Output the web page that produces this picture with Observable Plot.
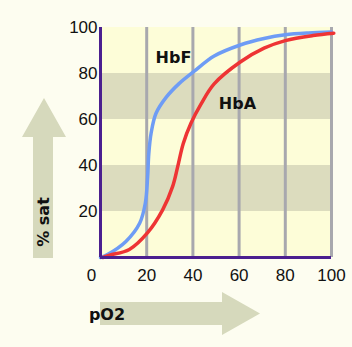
<!DOCTYPE html>
<html><head><meta charset="utf-8">
<script src="https://cdn.jsdelivr.net/npm/d3@7"></script>
<script src="https://cdn.jsdelivr.net/npm/@observablehq/plot@0.6"></script>
<style>html,body{margin:0;padding:0;background:#fdfdf0;}</style>
</head><body><div id="chart"></div>
<script>
const hbfX = [0, 3, 11, 17, 19.4, 20.4, 20.9, 21.9, 24, 28.4, 34, 40.6, 49.2, 60.5, 70.8, 80, 90, 100];
const hbfY = [0, 1.3, 7, 15, 23.6, 35, 45, 54, 62.6, 69.6, 75.6, 81, 87.6, 92.4, 95.2, 96.8, 97.6, 98];
const hbaX = [1, 4, 12.5, 20.4, 26.9, 31.2, 33.4, 35.8, 39.2, 43.5, 49.2, 60.5, 70.8, 80, 92, 101];
const hbaY = [0, 1, 3.5, 10.8, 20.7, 30.8, 39.4, 49.5, 58.5, 66.7, 75.5, 85, 91, 94.3, 96.5, 97.5];
const xTicks = [0, 20, 40, 60, 80, 100];
const yTicks = [20, 40, 60, 80, 100];
const bandLo = [60, 20];
const bandHi = [80, 40];
const labels = ["HbF", "HbA"];
const labelX = [31.6, 59.3];
const labelY = [87, 67];
const xTitle = "pO2";
const yTitle = "% sat";

const hbf = hbfX.map((x, i) => ({x, y: hbfY[i]}));
const hba = hbaX.map((x, i) => ({x, y: hbaY[i]}));
const bands = bandLo.map((lo, i) => ({lo, hi: bandHi[i]}));
const lab = labels.map((t, i) => ({t, x: labelX[i], y: labelY[i]}));

const plot = Plot.plot({
  width: 352, height: 347,
  marginLeft: 100, marginRight: 21, marginTop: 27, marginBottom: 90,
  x: {domain: [0, 100]},
  y: {domain: [0, 100]},
  style: {background: "#fdfdf0", fontFamily: "Liberation Sans, Arial, sans-serif", fontSize: "17px", color: "#111"},
  marks: [
    Plot.rect([{}], {x1: 0, x2: 100, y1: 0, y2: 100, fill: "#fdfdd8"}),
    Plot.rect(bands, {x1: 0, x2: 100, y1: "lo", y2: "hi", fill: "#dcdcbe"}),
    Plot.ruleX(xTicks.filter(d => d > 0), {y1: 0, y2: 100, stroke: "#a8a8ae", strokeWidth: 3}),
    Plot.line(hbf, {x: "x", y: "y", curve: "catmull-rom", stroke: "#6e9cf5", strokeWidth: 3.5}),
    Plot.line(hba, {x: "x", y: "y", curve: "catmull-rom", stroke: "#ee3434", strokeWidth: 3.5}),
    Plot.ruleX([0], {y1: 0, y2: 100, stroke: "#4b1f8f", strokeWidth: 3}),
    Plot.ruleY([0], {x1: 0, x2: 100, stroke: "#4b1f8f", strokeWidth: 3}),
    Plot.axisX(xTicks.filter(d => d > 0), {tickSize: 0, tickPadding: 11, fontSize: 17, label: null}),
    Plot.text(xTicks.filter(d => d === 0), {x: d => d, y: 0, dx: -9, dy: 18, text: d => String(d), fontSize: 17}),
    Plot.axisY(yTicks, {tickSize: 0, tickPadding: 3, fontSize: 17, label: null}),
    Plot.text(lab, {x: "x", y: "y", text: "t", fontFamily: "DejaVu Sans", fontWeight: "bold", fontSize: 16, fill: "#111"})
  ]
});

const svg = d3.select(plot);
const g = svg.insert("g", ":first-child");
const arrowFill = "#d6d9bc";
g.append("polygon")
  .attr("points", "33,258 53,258 53,137 66,137 44,98 22,137 33,137")
  .attr("fill", arrowFill);
g.append("polygon")
  .attr("points", "100,302 222,302 222,292 260,313.5 222,335 222,325 100,325")
  .attr("fill", arrowFill);
g.append("text")
  .attr("transform", "translate(43,222) rotate(-90)")
  .attr("text-anchor", "middle").attr("dy", "0.35em")
  .attr("font-family", "DejaVu Sans").attr("font-weight", "bold").attr("font-size", 16)
  .attr("fill", "#111").text(yTitle);
g.append("text")
  .attr("x", 107).attr("y", 314).attr("dy", "0.35em")
  .attr("font-family", "DejaVu Sans").attr("font-weight", "bold").attr("font-size", 16)
  .attr("fill", "#111").text(xTitle);

document.getElementById("chart").append(plot);
</script>
</body></html>
